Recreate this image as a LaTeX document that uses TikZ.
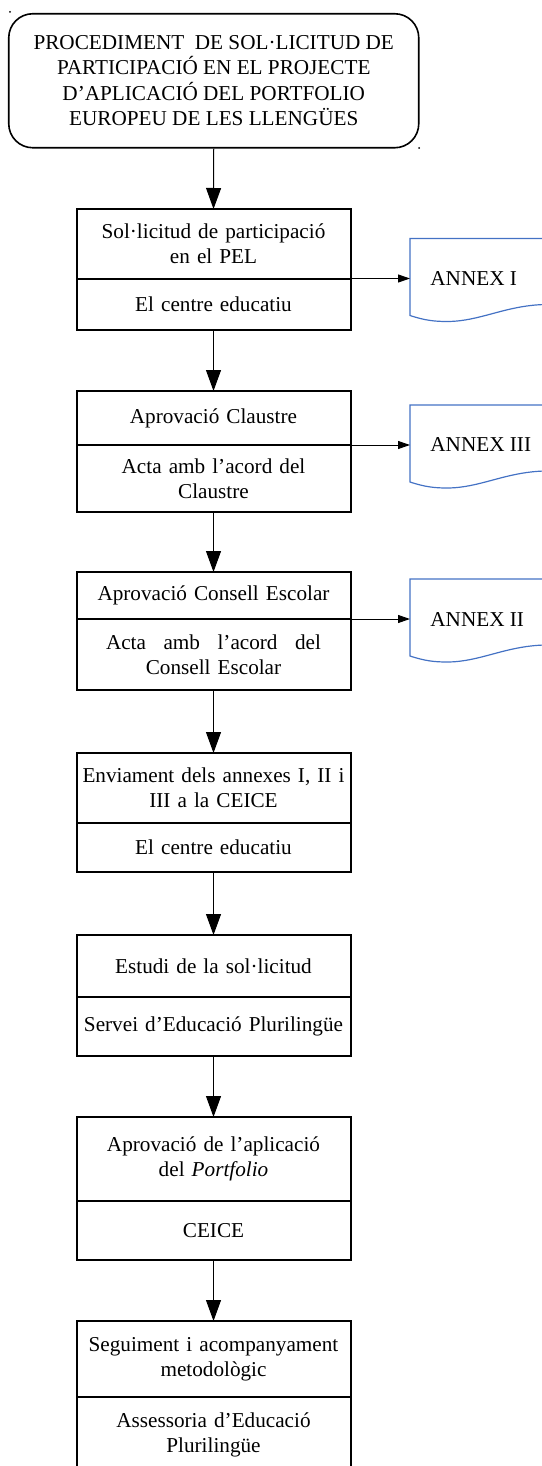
\documentclass[tikz,border=0pt]{standalone}
\usepackage{fontspec}
\setmainfont{Liberation Serif}
\usetikzlibrary{arrows.meta}
\definecolor{annexblue}{RGB}{68,114,196}

\tikzset{
  txt/.style={font=\fontsize{10.6}{12.7}\selectfont},
  titlebox/.style={txt, draw, line width=0.8pt, rounded corners=12pt, align=center,
    minimum width=205pt, minimum height=67pt},
  stepbox/.style={txt, draw, line width=1pt, anchor=north, outer sep=0pt,
    text width=135pt, inner xsep=1pt, inner ysep=0pt, align=center},
  flowarrow/.style={line width=0.5pt, -{Triangle[length=10.5pt,width=7.5pt]}},
  sidearrow/.style={line width=0.5pt, -{Triangle[length=6pt,width=4pt]}},
  doc/.style={annexblue, line width=0.6pt},
  annex/.style={txt, anchor=west, inner sep=0pt}
}

\begin{document}
\begin{tikzpicture}[x=0.5pt,y=-0.5pt]
\useasboundingbox (0,0) rectangle (541,1466);

% title
\node[titlebox] (titol) at (213.75,80.75)
  {PROCEDIMENT\ \ DE SOL·LICITUD DE\\PARTICIPACIÓ EN EL PROJECTE\\D’APLICACIÓ DEL PORTFOLIO\\EUROPEU DE LES LLENGÜES};
\fill (10,12) circle [radius=1];
\fill (419,148) circle [radius=1];

% steps
\node[stepbox, minimum height=34.75pt] (sol) at (213.5,209) {Sol·licitud de participació\\en el PEL};
\node[stepbox, minimum height=25.75pt] (solc) at (sol.south) {El centre educatiu};

\node[stepbox, minimum height=27pt] (claus) at (213.5,391) {Aprovació Claustre};
\node[stepbox, minimum height=33.5pt] (clausc) at (claus.south) {Acta amb l’acord del\\Claustre};

\node[stepbox, minimum height=23.5pt] (consell) at (213.5,572) {Aprovació Consell Escolar};
\node[stepbox, minimum height=35.5pt] (consellc) at (consell.south)
  {\makebox[107.5pt]{Acta\hfill amb\hfill l’acord\hfill del}\\Consell Escolar};

\node[stepbox, minimum height=35pt] (envia) at (213.5,753) {Enviament dels annexes I, II i\\III a la CEICE};
\node[stepbox, minimum height=24.5pt] (enviac) at (envia.south) {El centre educatiu};

\node[stepbox, minimum height=31pt] (estudi) at (213.5,935) {Estudi de la sol·licitud};
\node[stepbox, minimum height=29.5pt] (estudic) at (estudi.south) {Servei d’Educació Plurilingüe};

\node[stepbox, minimum height=42pt] (aprov) at (213.5,1117) {Aprovació de l’aplicació\\del \textit{Portfolio}};
\node[stepbox, minimum height=29.5pt] (aprovc) at (aprov.south) {CEICE};

\node[stepbox, minimum height=38pt] (segui) at (213.5,1321) {Seguiment i acompanyament\\metodològic};
\node[stepbox, minimum height=38pt] (seguic) at (segui.south) {Assessoria d’Educació\\Plurilingüe};

% annexes
\foreach \ay/\nm/\txt in {278.5/annexI/ANNEX I, 445/annexIII/ANNEX III, 619/annexII/ANNEX II}{
  \coordinate (\nm) at (410,\ay);
  \node[annex] (\nm t) at (430,\ay) {\txt};
  \draw[doc] (545,\ay-40) -- (410,\ay-40) -- (410,\ay+37)
    .. controls (425,\ay+42) and (435,\ay+43) .. (447,\ay+43)
    .. controls (480,\ay+43) and (505,\ay+27) .. (545,\ay+26);
}

% arrows
\draw[flowarrow] (titol.south) -- (sol.north);
\draw[flowarrow] (solc.south) -- (claus.north);
\draw[flowarrow] (clausc.south) -- (consell.north);
\draw[flowarrow] (consellc.south) -- (envia.north);
\draw[flowarrow] (enviac.south) -- (estudi.north);
\draw[flowarrow] (estudic.south) -- (aprov.north);
\draw[flowarrow] (aprovc.south) -- (segui.north);

\draw[sidearrow] (sol.south east) -- (annexI);
\draw[sidearrow] (claus.south east) -- (annexIII);
\draw[sidearrow] (consell.south east) -- (annexII);

\end{tikzpicture}
\end{document}
